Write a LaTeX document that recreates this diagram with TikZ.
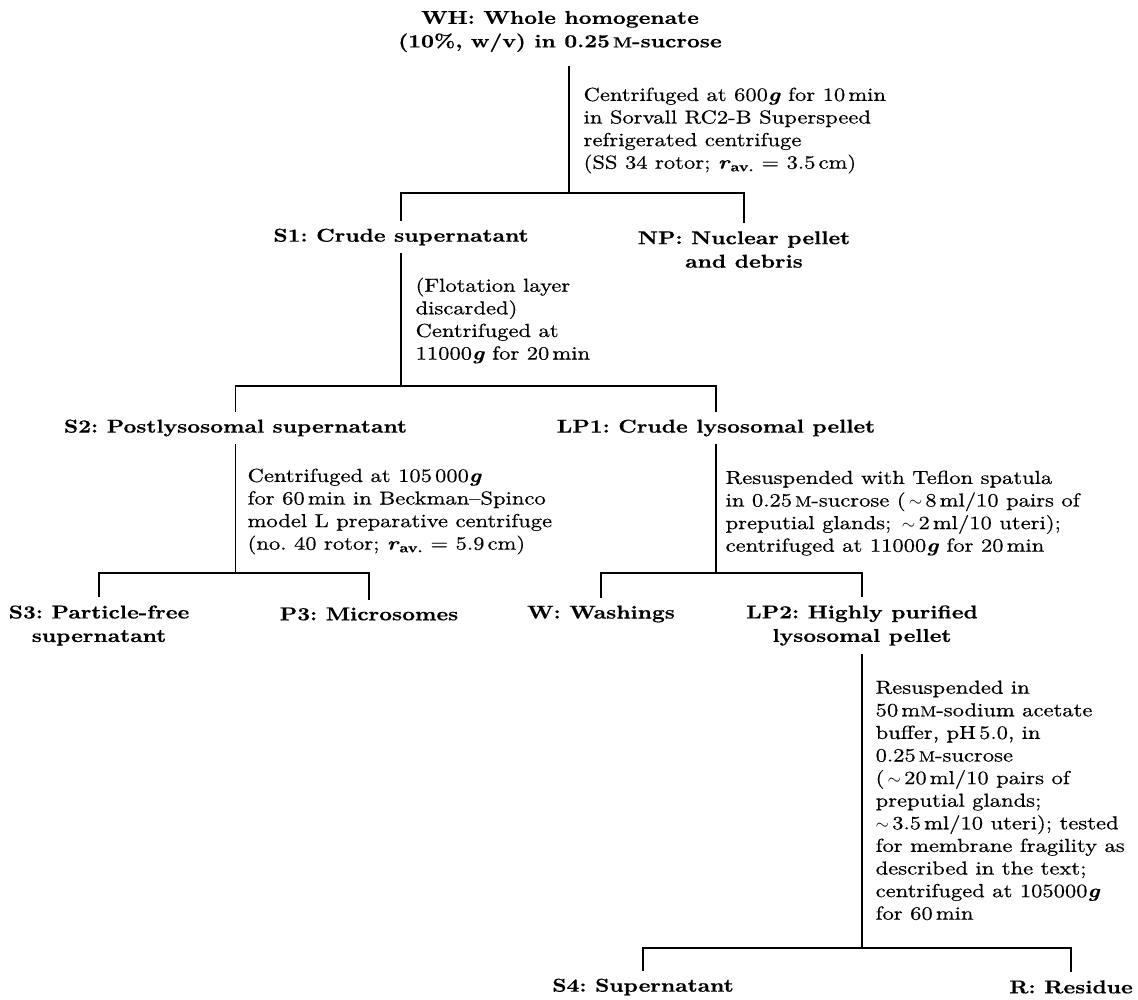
\documentclass[tikz,border=0pt]{standalone}
\usepackage{graphicx}
\usepackage{fontspec}
\setmainfont{lmroman10-regular.otf}[BoldFont=lmroman10-bold.otf, ItalicFont=lmroman10-italic.otf, BoldItalicFont=lmroman10-bolditalic.otf, FakeStretch=1.2, FakeBold=0.5]
\newcommand{\mM}{\scalebox{0.78}{M}}
\newcommand{\gf}{\textbf{\textit{g}}}
\newcommand{\rav}{\textbf{\textit{r}}\textsubscript{\textbf{av.}}}
\newcommand{\apx}{\,$\sim$\,}
\frenchspacing
\begin{document}
\frenchspacing
\begin{tikzpicture}[x=1pt, y=-1pt, line width=1.3pt,
  lab/.style={font=\fontsize{18.6}{23.5}\selectfont\bfseries, align=center, inner sep=0pt, outer sep=8pt},
  ann/.style={font=\fontsize{18.8}{22.6}\selectfont, align=left, inner sep=0pt, anchor=north west}]
\useasboundingbox (0,0) rectangle (1138,999);
% labels
\node[lab] (WH) at (560,31.5) {WH: Whole homogenate\\(10\%, w/v) in 0.25\,\mM-sucrose};
\node[lab] (S1) at (401,237) {S1: Crude supernatant};
\node[lab] (NP) at (744,249.5) {NP: Nuclear pellet\\and debris};
\node[lab] (S2) at (235.5,428) {S2: Postlysosomal supernatant};
\node[lab] (LP1) at (716,428) {LP1: Crude lysosomal pellet};
\node[lab] (S3) at (99,625.5) {S3: Particle-free\\supernatant};
\node[lab] (P3) at (369,614) {P3: Microsomes};
\node[lab] (W) at (601,614) {W: Washings};
\node[lab] (LP2) at (862,625.5) {LP2: Highly purified\\lysosomal pellet};
\node[lab] (S4) at (643,987) {S4: Supernatant};
\node[lab] (R) at (1071,987) {R: Residue};
% annotations
\node[ann] (a1) at (583,87) {Centrifuged at 600\gf{} for 10\,min\\in Sorvall RC2-B Superspeed\\refrigerated centrifuge\\(SS 34 rotor; \rav{} = 3.5\,cm)};
\node[ann] (a2) at (415,277) {(Flotation layer\\discarded)\\Centrifuged at\\11000\gf{} for 20\,min};
\node[ann] (a3) at (247,468) {Centrifuged at 105\,000\gf\\for 60\,min in Beckman--Spinco\\model L preparative centrifuge\\(no. 40 rotor; \rav{} = 5.9\,cm)};
\node[ann] (a4) at (725,470) {Resuspended with Teflon spatula\\in 0.25\,\mM-sucrose (\apx8\,ml/10 pairs of\\preputial glands; \apx2\,ml/10 uteri);\\centrifuged at 11000\gf{} for 20\,min};
\node[ann] (a5) at (875,680) {Resuspended in\\50\,m\mM-sodium acetate\\buffer, pH\,5.0, in\\0.25\,\mM-sucrose\\(\apx20\,ml/10 pairs of\\preputial glands;\\$\sim$\,3.5\,ml/10 uteri); tested\\for membrane fragility as\\described in the text;\\centrifuged at 105000\gf\\for 60\,min};
% junctions
\coordinate (j1) at (569,193);
\coordinate (j2) at (401,386);
\coordinate (j3) at (235.5,573);
\coordinate (j4) at (716,573);
\coordinate (j5) at (862,948);
% connectors
\draw ([yshift=-6pt]WH.south -| j1) -- (j1);
\draw (S1.north) |- (j1) -| (NP.north);
\draw (S1.south) -- (j2);
\draw (S2.north) |- (j2) -| (LP1.north);
\draw (S2.south) -- (j3);
\draw (S3.north) |- (j3) -| (P3.north);
\draw (LP1.south) -- (j4);
\draw (W.north) |- (j4) -| (LP2.north);
\draw (LP2.south) -- (j5);
\draw (S4.north) |- (j5) -| (R.north);
\end{tikzpicture}
\end{document}
